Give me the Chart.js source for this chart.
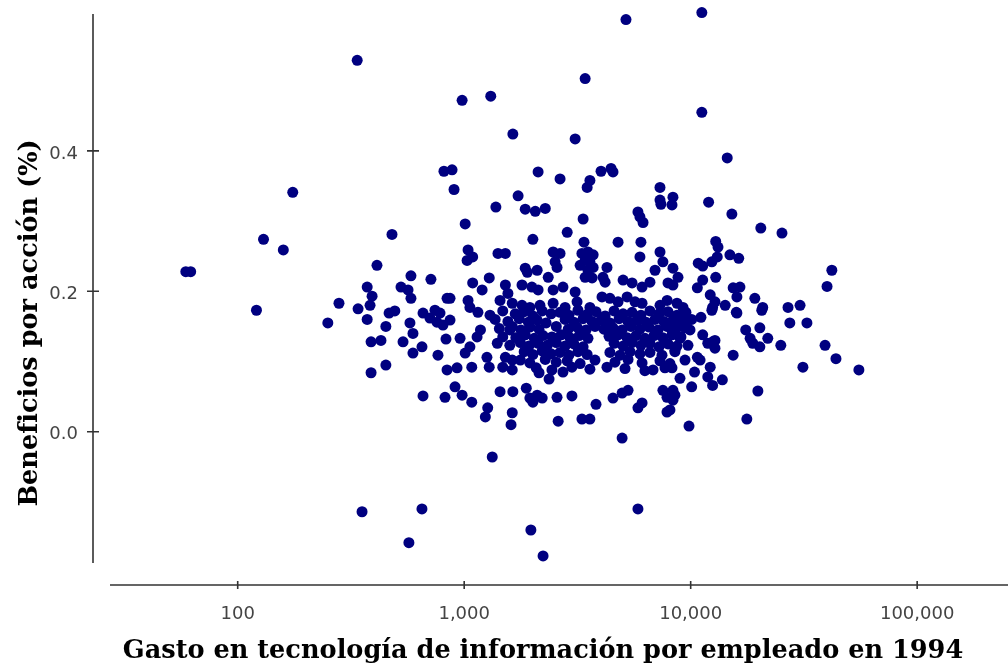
<!DOCTYPE html>
<html lang="es">
<head>
<meta charset="utf-8">
<title>Beneficios por acción vs gasto en TI</title>
<script src="https://cdn.jsdelivr.net/npm/chart.js@4.4.1/dist/chart.umd.min.js"></script>
<style>
  html, body { margin: 0; padding: 0; background: #fff; }
  #wrap { width: 1008px; height: 666px; position: relative; }
</style>
</head>
<body>
<div id="wrap"><canvas id="scatterChart"></canvas></div>
<script>
// gasto en TI por empleado (US$, 1994) y beneficios por acción, por zonas del gráfico

// puntos dispersos / atípicos
const gastoDispersos = [59, 62, 121, 130, 159, 175, 250, 280, 337, 979,
  1310, 1640, 3090, 3420, 5180, 11200, 11200, 14500, 12000, 15200,
  20400, 25300, 8350, 8270, 42000, 40000, 25000, 39200, 43800, 31300,
  55300, 19800, 17700, 9830, 15400, 4980, 1330, 354, 651, 570,
  1970, 2230, 5850, 27400, 32600, 26900, 30400, 480, 412, 582,
  713, 814, 884, 902, 1010, 1380, 1730, 1860, 2060, 2280,
  2120, 2650, 3590, 3490, 4020, 4450, 4540, 7320, 7320, 7390,
  3350, 2850, 2010, 3380, 4780, 6030, 5850, 5970, 6160, 12900,
  13200, 388, 451, 658, 823];
const benefDispersos = [0.228, 0.228, 0.173, 0.274, 0.259, 0.341, 0.155, 0.183, 0.529, 0.472,
  0.478, 0.424, 0.417, 0.503, 0.587, 0.597, 0.455, 0.390, 0.327, 0.310,
  0.290, 0.283, 0.334, 0.323, 0.230, 0.207, 0.123, 0.123, 0.104, 0.092,
  0.088, 0.058, 0.018, 0.008, 0.109, -0.009, -0.036, -0.114, -0.110, -0.158,
  -0.140, -0.177, -0.110, 0.155, 0.155, 0.177, 0.180, 0.281, 0.237, 0.222,
  0.217, 0.371, 0.373, 0.345, 0.296, 0.320, 0.336, 0.317, 0.314, 0.318,
  0.370, 0.360, 0.358, 0.348, 0.371, 0.375, 0.370, 0.348, 0.330, 0.324,
  0.303, 0.284, 0.274, 0.270, 0.270, 0.270, 0.313, 0.306, 0.298, 0.271,
  0.263, 0.084, 0.095, 0.051, 0.049];

// zona izquierda (300 - 1.200)
const gastoIzq = [373, 392, 384, 526, 565, 582, 840, 340, 743, 466,
  494, 373, 451, 388, 429, 576, 594, 537, 651, 594,
  766, 831, 658, 706, 758, 806, 866, 782, 911, 979,
  1080, 840, 930, 959, 1060, 1010, 1080, 1180, 1140];
const benefIzq = [0.206, 0.193, 0.180, 0.206, 0.202, 0.190, 0.190, 0.175, 0.173, 0.169,
  0.172, 0.160, 0.150, 0.128, 0.130, 0.155, 0.140, 0.128, 0.121, 0.112,
  0.109, 0.132, 0.169, 0.162, 0.156, 0.152, 0.159, 0.169, 0.064, 0.052,
  0.042, 0.088, 0.091, 0.133, 0.121, 0.112, 0.092, 0.145, 0.135];

// zona central alta (0,18 - 0,26)
const gastoCentro = [1040, 1030, 1090, 1410, 1520, 2470, 2650, 2520, 2570, 3310,
  3520, 3710, 3420, 3250, 3590, 3520, 3710, 3420, 3670, 4270,
  4100, 4190, 1860, 1900, 2100, 2350, 1290, 1090, 1200, 1520,
  1560, 1800, 1990, 2120, 2470, 2730, 3090, 866, 1040, 1060,
  1440, 1630, 1800, 1950, 2160, 2470, 2790, 3150, 3590, 4060,
  4400, 4780, 5240, 5680, 6100, 7320, 7870, 5970, 7320, 7540,
  5030, 5510, 6100, 6610, 6960, 7940];
const benefCentro = [0.259, 0.244, 0.249, 0.254, 0.254, 0.256, 0.254, 0.242, 0.234, 0.254,
  0.256, 0.252, 0.244, 0.237, 0.242, 0.230, 0.234, 0.220, 0.219, 0.234,
  0.220, 0.213, 0.233, 0.227, 0.230, 0.220, 0.219, 0.212, 0.202, 0.209,
  0.197, 0.209, 0.206, 0.202, 0.202, 0.206, 0.199, 0.190, 0.187, 0.177,
  0.187, 0.183, 0.180, 0.177, 0.180, 0.183, 0.177, 0.185, 0.177, 0.192,
  0.190, 0.185, 0.192, 0.185, 0.183, 0.180, 0.187, 0.249, 0.256, 0.242,
  0.216, 0.212, 0.206, 0.213, 0.230, 0.212];

// núcleo denso (0,09 - 0,17)
const gastoNucleo = [
  1150, 1300, 1480, 1680, 1840, 2010, 2210, 2420, 2650, 2900, 3180, 3490, 3820, 4190, 4590, 5030, 5510, 6030, 6610, 7250, 7940, 8700, 9530,
  1370, 1560, 1750, 1920, 2100, 2300, 2790, 3050, 3350, 3670, 4020, 4400, 4830, 5290, 5800, 6350, 6960, 7620, 8350, 9150, 10100,
  1430, 1630, 1780, 1950, 2140, 2550, 2880, 3150, 3450, 3780, 4140, 4540, 4980, 5450, 5970, 6550, 7170, 7860, 8610, 9440,
  1690, 1860, 2040, 2230, 2440, 2680, 2930, 3220, 3520, 4360, 4780, 5240, 5740, 6280, 6890, 7540, 8270, 9060,
  1590, 1770, 1930, 2120, 2330, 2550, 2790, 3050, 3350, 4590, 5030, 5510, 6030, 6610, 7250, 7940, 8700,
  1840, 2010, 2210, 2420, 2650, 2900, 3180, 3490, 4400, 4880, 5400, 5970, 6610, 7470, 8520,
  1770, 1950, 2280, 2550, 2850, 3250, 3780, 4630, 5290, 6100, 7320, 8100,
  2080, 2440, 2990, 3590, 5130, 6280, 7700];
const benefNucleo = [
  0.170, 0.166, 0.172, 0.168, 0.171, 0.165, 0.172, 0.168, 0.170, 0.166, 0.173, 0.167, 0.171, 0.165, 0.172, 0.168, 0.170, 0.166, 0.172, 0.168, 0.171, 0.166, 0.170,
  0.160, 0.157, 0.161, 0.156, 0.159, 0.155, 0.160, 0.156, 0.161, 0.157, 0.159, 0.155, 0.161, 0.157, 0.159, 0.156, 0.160, 0.157, 0.159, 0.155, 0.160,
  0.147, 0.150, 0.145, 0.149, 0.146, 0.150, 0.146, 0.149, 0.145, 0.150, 0.146, 0.148, 0.145, 0.150, 0.146, 0.149, 0.145, 0.150, 0.146, 0.148,
  0.134, 0.138, 0.133, 0.137, 0.135, 0.138, 0.134, 0.137, 0.133, 0.136, 0.138, 0.134, 0.137, 0.133, 0.137, 0.134, 0.138, 0.135,
  0.123, 0.127, 0.122, 0.126, 0.123, 0.127, 0.122, 0.125, 0.121, 0.126, 0.122, 0.127, 0.123, 0.126, 0.121, 0.125, 0.122,
  0.114, 0.110, 0.115, 0.111, 0.113, 0.109, 0.114, 0.110, 0.113, 0.109, 0.114, 0.111, 0.113, 0.109, 0.114,
  0.102, 0.098, 0.103, 0.099, 0.101, 0.097, 0.102, 0.099, 0.103, 0.098, 0.101, 0.097,
  0.091, 0.088, 0.092, 0.089, 0.090, 0.087, 0.091];

// zona derecha (7.500 - 22.000)
const gastoDerecha = [10800, 11300, 12400, 13100, 14900, 16300, 8350, 8790, 8350, 11300,
  12900, 10700, 15400, 16500, 16000, 12200, 12800, 12500, 19200, 20800,
  8700, 9250, 14200, 15900, 9250, 9730, 11100, 8520, 17500, 20200,
  21900, 20200, 18800, 18300, 12400, 16000, 20600, 11300, 12500, 12800,
  10700, 11000, 12200, 11900, 12500, 13800, 10100, 8350, 8520, 8100,
  11900, 12800, 8350, 7860, 7540, 7860, 8270, 8970, 9730, 8520,
  9440, 8270, 9930, 10400, 8970];
const benefDerecha = [0.240, 0.236, 0.242, 0.249, 0.252, 0.247, 0.233, 0.220, 0.209, 0.216,
  0.220, 0.205, 0.205, 0.206, 0.192, 0.195, 0.185, 0.177, 0.190, 0.177,
  0.183, 0.177, 0.180, 0.170, 0.166, 0.159, 0.163, 0.156, 0.145, 0.148,
  0.133, 0.121, 0.126, 0.133, 0.173, 0.169, 0.173, 0.138, 0.128, 0.119,
  0.106, 0.102, 0.092, 0.078, 0.066, 0.074, 0.064, 0.059, 0.052, 0.031,
  0.126, 0.130, 0.045, 0.028, 0.059, 0.049, 0.145, 0.133, 0.123, 0.116,
  0.102, 0.091, 0.145, 0.085, 0.076];

// zona central baja (0,00 - 0,15)
const gastoBajo = [1400, 1480, 1590, 1260, 1290, 1520, 1630, 1480, 1630, 1270,
  1240, 1440, 1640, 1630, 1610, 1880, 1950, 2100, 2210, 2010,
  2140, 2370, 2570, 2990, 2600, 3310, 3590, 3820, 4540, 4980,
  5290, 5850, 6100, 4270, 2730, 6820];
const benefBajo = [0.126, 0.135, 0.145, 0.106, 0.092, 0.106, 0.102, 0.092, 0.088, 0.034,
  0.021, 0.057, 0.057, 0.027, 0.010, 0.062, 0.048, 0.052, 0.048, 0.042,
  0.084, 0.075, 0.049, 0.051, 0.015, 0.018, 0.018, 0.039, 0.048, 0.055,
  0.059, 0.034, 0.041, 0.092, 0.085, 0.088];

const xTicks = [100, 1000, 10000, 100000];
const yTicks = [0.0, 0.2, 0.4];

const xTitle = "Gasto en tecnología de información por empleado en 1994";
const yTitle = "Beneficios por acción (%)";

const gasto = [].concat(gastoDispersos, gastoIzq, gastoCentro, gastoNucleo, gastoDerecha, gastoBajo);
const beneficios = [].concat(benefDispersos, benefIzq, benefCentro, benefNucleo, benefDerecha, benefBajo);
const puntos = gasto.map((x, i) => ({ x: x, y: beneficios[i] }));

// ejes separados del area de datos, con marcas en cruz, y titulos en serif
const axisDecor = {
  id: "axisDecor",
  afterDraw(chart) {
    const { ctx, chartArea, scales } = chart;
    const yAxisX = chartArea.left - 17;
    const xAxisY = chartArea.bottom + 22;
    ctx.save();
    ctx.strokeStyle = "#333";
    ctx.lineWidth = 1.6;
    ctx.beginPath();
    ctx.moveTo(yAxisX, chartArea.top);
    ctx.lineTo(yAxisX, chartArea.bottom);
    ctx.moveTo(chartArea.left, xAxisY);
    ctx.lineTo(chartArea.right, xAxisY);
    yTicks.forEach(v => {
      const py = scales.y.getPixelForValue(v);
      ctx.moveTo(yAxisX - 6, py);
      ctx.lineTo(yAxisX + 6, py);
    });
    xTicks.forEach(v => {
      const px = scales.x.getPixelForValue(v);
      ctx.moveTo(px, xAxisY - 4);
      ctx.lineTo(px, xAxisY + 4);
    });
    ctx.stroke();

    ctx.fillStyle = "#000";
    ctx.font = "bold 25.6px 'DejaVu Serif', serif";
    ctx.textAlign = "center";
    ctx.textBaseline = "alphabetic";
    ctx.fillText(xTitle, 543, 658);
    ctx.translate(37, 323);
    ctx.rotate(-Math.PI / 2);
    ctx.fillText(yTitle, 0, 0);
    ctx.restore();
  }
};

const ctx = document.getElementById("scatterChart").getContext("2d");
new Chart(ctx, {
  type: "scatter",
  data: {
    datasets: [{
      data: puntos,
      backgroundColor: "#000080",
      borderWidth: 0,
      pointRadius: 5.5,
      pointHoverRadius: 5.5,
      clip: false
    }]
  },
  options: {
    responsive: true,
    maintainAspectRatio: false,
    animation: false,
    layout: { autoPadding: false, padding: { top: 14, right: 0, bottom: 0, left: 0 } },
    plugins: {
      legend: { display: false },
      tooltip: { enabled: false }
    },
    scales: {
      x: {
        type: "logarithmic",
        min: 27.3,
        max: 251800,
        afterFit(scale) {
          scale.height = 103;
          scale.paddingLeft = 0;
          scale.paddingRight = 0;
        },
        afterBuildTicks(scale) { scale.ticks = xTicks.map(v => ({ value: v })); },
        grid: { display: false, drawTicks: false },
        border: { display: false },
        ticks: {
          color: "#444",
          font: { family: "DejaVu Sans", size: 18 },
          padding: 41,
          maxRotation: 0,
          autoSkip: false,
          callback: v => Number(v).toLocaleString("en-US")
        }
      },
      y: {
        min: -0.187,
        max: 0.595,
        afterFit(scale) {
          scale.width = 110;
          scale.paddingTop = 0;
          scale.paddingBottom = 0;
        },
        afterBuildTicks(scale) { scale.ticks = yTicks.map(v => ({ value: v })); },
        grid: { display: false, drawTicks: false },
        border: { display: false },
        ticks: {
          color: "#444",
          font: { family: "DejaVu Sans", size: 18 },
          padding: 32,
          labelOffset: 3,
          callback: v => Number(v).toFixed(1)
        }
      }
    }
  },
  plugins: [axisDecor]
});
</script>
</body>
</html>
